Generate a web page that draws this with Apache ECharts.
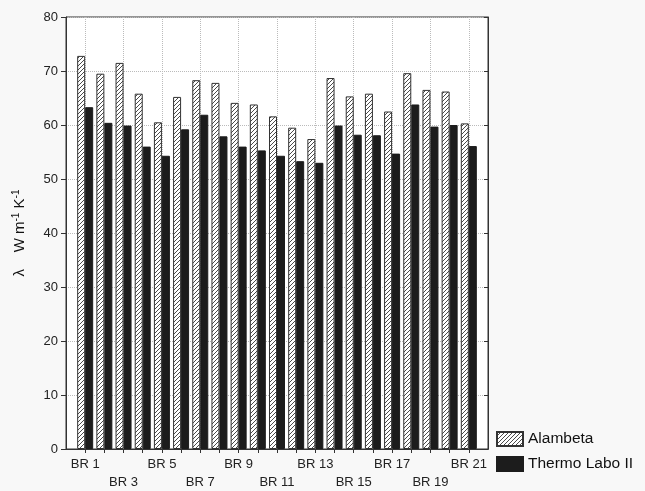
<!DOCTYPE html>
<html><head><meta charset="utf-8">
<script src="https://cdn.jsdelivr.net/npm/echarts@6/dist/echarts.min.js"></script>
<style>html,body{margin:0;padding:0;background:#f8f8f8}#c{width:645px;height:491px}</style>
</head><body><div id="c"></div>
<script>
var categories = ['BR 1','BR 2','BR 3','BR 4','BR 5','BR 6','BR 7','BR 8','BR 9','BR 10','BR 11','BR 12','BR 13','BR 14','BR 15','BR 16','BR 17','BR 18','BR 19','BR 20','BR 21'];
var alambeta = [72.8,69.5,71.5,65.8,60.5,65.2,68.3,67.8,64.1,63.8,61.6,59.5,57.4,68.7,65.3,65.8,62.5,69.6,66.5,66.2,60.3];
var thermoLabo = [63.3,60.4,59.9,56.0,54.3,59.2,61.9,57.9,56.0,55.3,54.3,53.3,53.0,59.9,58.2,58.1,54.7,63.8,59.7,60.0,56.1];
var yTicks = [0,10,20,30,40,50,60,70,80];

var cats = [''].concat(categories).concat(['']);
var aData = ['-'].concat(alambeta).concat(['-']);
var tData = ['-'].concat(thermoLabo).concat(['-']);

var cv = document.createElement('canvas');
cv.width = 4; cv.height = 4;
var ctx = cv.getContext('2d');
ctx.fillStyle = '#ffffff'; ctx.fillRect(0,0,4,4);
ctx.fillStyle = '#4a4a4a';
for (var x = 0; x < 4; x++) for (var y = 0; y < 4; y++) if ((x + y) % 4 === 3) ctx.fillRect(x, y, 1, 1);

var font = '"Liberation Sans", Arial, sans-serif';
var chart = echarts.init(document.getElementById('c'));
chart.setOption({
  backgroundColor: '#f8f8f8',
  animation: false,
  textStyle: {fontFamily: font},
  grid: {left: 66, right: 157, top: 17, bottom: 40, show: true, backgroundColor: '#ffffff', borderColor: '#333', borderWidth: 1},
  legend: {
    orient: 'vertical', left: 496, top: 431, itemWidth: 26, itemHeight: 14, itemGap: 9, icon: 'rect', padding: 0,
    textStyle: {fontFamily: font, fontSize: 15.5, color: '#111'},
    data: ['Alambeta', 'Thermo Labo II']
  },
  xAxis: [{
    type: 'category', data: cats, boundaryGap: false,
    axisLine: {lineStyle: {color: '#333'}},
    axisTick: {show: false},
    splitLine: {show: true, lineStyle: {type: 'dotted', color: '#bbb'}},
    axisLabel: {
      fontFamily: font, fontSize: 13, color: '#222', margin: 6, lineHeight: 18,
      interval: function (i) { return i >= 1 && i <= 21 && i % 2 === 1; },
      formatter: function (v, i) { return ((i - 1) % 4 === 0) ? v : '\n' + v; }
    }
  }, {
    type: 'category', data: cats, boundaryGap: false, position: 'top',
    axisLine: {show: true, lineStyle: {color: '#333'}},
    axisTick: {show: true, inside: true, length: 4, interval: function (i) { return i >= 1 && i <= 21; }, lineStyle: {color: '#333'}},
    axisLabel: {show: false}
  }],
  yAxis: [{
    type: 'value', min: 0, max: 80, interval: 10,
    name: '{l|λ}{n|    W m}{s|-1}{n| K}{s|-1}',
    nameLocation: 'middle', nameRotate: 90, nameGap: 37,
    nameTextStyle: {rich: {
      l: {fontFamily: font, fontSize: 15, color: '#111'},
      n: {fontFamily: font, fontSize: 15, color: '#111'},
      s: {fontFamily: font, fontSize: 10, color: '#111', verticalAlign: 'top', padding: [0, 0, 8, 0]}
    }},
    axisLine: {show: true, lineStyle: {color: '#333'}},
    axisTick: {show: true, length: 5, lineStyle: {color: '#333'}},
    axisLabel: {fontFamily: font, fontSize: 13, color: '#222', margin: 8},
    splitLine: {show: true, lineStyle: {type: 'dotted', color: '#bbb'}}
  }, {
    type: 'value', min: 0, max: 80, interval: 10, position: 'right',
    axisLine: {show: true, lineStyle: {color: '#333'}},
    axisTick: {show: true, inside: true, length: 4, lineStyle: {color: '#333'}},
    axisLabel: {show: false}, splitLine: {show: false}
  }],
  series: [{
    name: 'Alambeta', type: 'bar', data: aData, barWidth: 8, barGap: '0%',
    itemStyle: {color: {image: cv, repeat: 'repeat'}, borderColor: '#333', borderWidth: 1}
  }, {
    name: 'Thermo Labo II', type: 'bar', data: tData, barWidth: 8, barGap: '0%',
    itemStyle: {color: '#1c1c1c', borderColor: '#1c1c1c', borderWidth: 1}
  }]
});
</script></body></html>
